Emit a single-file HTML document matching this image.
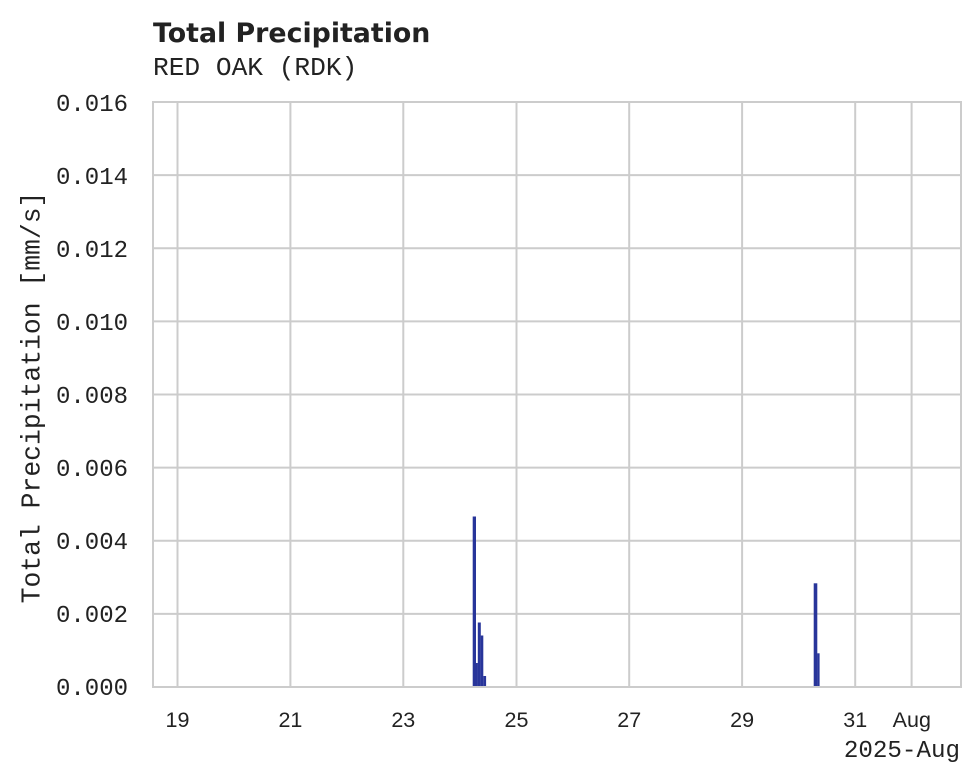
<!DOCTYPE html>
<html>
<head>
<meta charset="utf-8">
<style>
  html, body { margin: 0; padding: 0; background: #ffffff; }
  svg { display: block; }
</style>
</head>
<body>
<svg width="980" height="783" viewBox="0 0 980 783" xmlns="http://www.w3.org/2000/svg">
  <rect x="0" y="0" width="980" height="783" fill="#ffffff"/>

  <!-- Title -->
  <text x="153" y="42" font-family="DejaVu Sans, Liberation Sans, sans-serif" font-weight="bold" font-size="26.8" fill="#222222">Total Precipitation</text>
  <text x="153" y="75" font-family="Liberation Mono, DejaVu Sans Mono, monospace" font-size="26.2" fill="#222222">RED OAK (RDK)</text>

  <!-- Grid lines -->
  <g stroke="#cccccc" stroke-width="2" fill="none">
    <line x1="153" y1="175.1" x2="961" y2="175.1"/>
    <line x1="153" y1="248.25" x2="961" y2="248.25"/>
    <line x1="153" y1="321.4" x2="961" y2="321.4"/>
    <line x1="153" y1="394.5" x2="961" y2="394.5"/>
    <line x1="153" y1="467.6" x2="961" y2="467.6"/>
    <line x1="153" y1="540.75" x2="961" y2="540.75"/>
    <line x1="153" y1="613.9" x2="961" y2="613.9"/>

    <line x1="177.5" y1="102" x2="177.5" y2="687"/>
    <line x1="290.4" y1="102" x2="290.4" y2="687"/>
    <line x1="403.3" y1="102" x2="403.3" y2="687"/>
    <line x1="516.5" y1="102" x2="516.5" y2="687"/>
    <line x1="629.2" y1="102" x2="629.2" y2="687"/>
    <line x1="742.1" y1="102" x2="742.1" y2="687"/>
    <line x1="855.2" y1="102" x2="855.2" y2="687"/>
    <line x1="911.6" y1="102" x2="911.6" y2="687"/>
  </g>

  <!-- Bars -->
  <g fill="#28359a">
    <rect x="472.7" y="516.5" width="3.3" height="170.5"/>
    <rect x="476.0" y="663" width="1.9" height="24"/>
    <rect x="477.8" y="622.5" width="3.0" height="64.5"/>
    <rect x="480.7" y="635.5" width="2.6" height="51.5"/>
    <rect x="483.3" y="676" width="2.8" height="11"/>

    <rect x="813.7" y="583.3" width="3.6" height="103.7"/>
    <rect x="817.2" y="653.3" width="2.4" height="33.7"/>
  </g>

  <!-- Spines -->
  <rect x="153" y="102" width="808" height="585" fill="none" stroke="#cccccc" stroke-width="2"/>

  <!-- Y tick labels -->
  <g font-family="Liberation Mono, DejaVu Sans Mono, monospace" font-size="24" fill="#222222" text-anchor="end">
    <text x="128" y="111">0.016</text>
    <text x="128" y="184">0.014</text>
    <text x="128" y="257">0.012</text>
    <text x="128" y="330">0.010</text>
    <text x="128" y="403">0.008</text>
    <text x="128" y="476">0.006</text>
    <text x="128" y="549">0.004</text>
    <text x="128" y="622">0.002</text>
    <text x="128" y="695">0.000</text>
  </g>

  <!-- Y axis label -->
  <text transform="translate(39.5,397.5) rotate(-90)" font-family="Liberation Mono, DejaVu Sans Mono, monospace" font-size="26.4" fill="#222222" text-anchor="middle">Total Precipitation [mm/s]</text>

  <!-- X tick labels -->
  <g font-family="Liberation Sans, DejaVu Sans, sans-serif" font-size="21.5" fill="#222222" text-anchor="middle">
    <text x="177.5" y="727">19</text>
    <text x="290.4" y="727">21</text>
    <text x="403.3" y="727">23</text>
    <text x="516.5" y="727">25</text>
    <text x="629.2" y="727">27</text>
    <text x="742.1" y="727">29</text>
    <text x="855.2" y="727">31</text>
    <text x="911.8" y="727">Aug</text>
  </g>
  <text x="960" y="757" font-family="Liberation Mono, DejaVu Sans Mono, monospace" font-size="24.2" fill="#222222" text-anchor="end">2025-Aug</text>
</svg>
</body>
</html>
